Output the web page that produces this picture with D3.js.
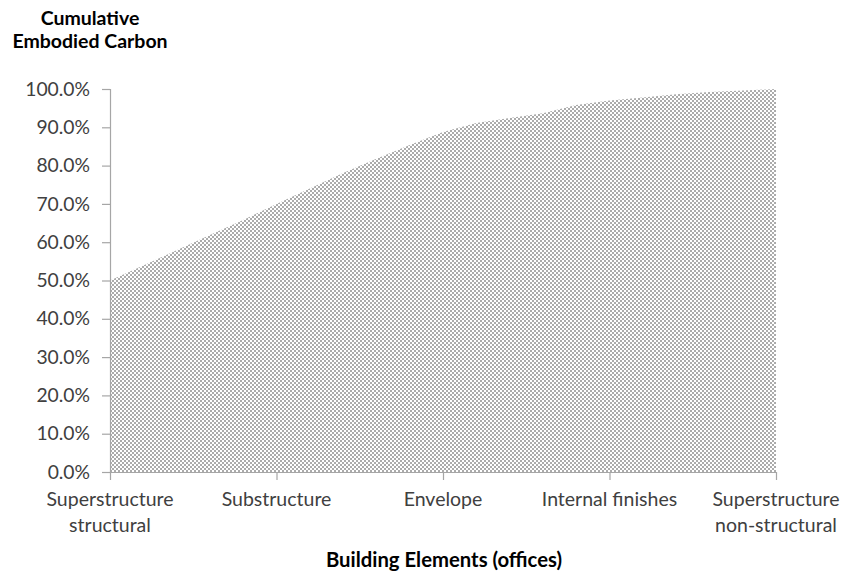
<!DOCTYPE html>
<html>
<head>
<meta charset="utf-8">
<script src="https://cdn.jsdelivr.net/npm/d3@7"></script>
<style>
  html, body { margin: 0; padding: 0; background: #fff; }
  svg { display: block; }
  text { font-family: Lato, "Open Sans", sans-serif; }
</style>
</head>
<body>
<svg id="chart" width="843" height="572"></svg>
<script>
// Category labels shown on the x axis (every 5th step of the cumulative curve)
const categories = [
  ["Superstructure", "structural"],
  ["Substructure"],
  ["Envelope"],
  ["Internal finishes"],
  ["Superstructure", "non-structural"]
];
// Cumulative embodied carbon (fraction), 21 equally spaced steps
const cumulative = [0.500, 0.539, 0.579, 0.619, 0.658, 0.700, 0.740, 0.781, 0.818, 0.854,
                    0.888, 0.911, 0.924, 0.937, 0.958, 0.970, 0.978, 0.986, 0.992, 0.996, 1.000];
const yTicks = [0, 0.1, 0.2, 0.3, 0.4, 0.5, 0.6, 0.7, 0.8, 0.9, 1.0];
const yTitle = ["Cumulative", "Embodied Carbon"];
const xTitle = "Building Elements (offices)";

const svg = d3.select("#chart");
const m = {left: 110, right: 67, top: 89, bottom: 100};
const W = 843, H = 572;

const labelStep = (cumulative.length - 1) / (categories.length - 1);
const x = d3.scaleLinear().domain([0, cumulative.length - 1]).range([m.left, W - m.right]);
const y = d3.scaleLinear().domain([0, 1]).range([H - m.bottom, m.top]);

// dotted pattern fill
const defs = svg.append("defs");
const pat = defs.append("pattern").attr("id", "dots")
  .attr("patternUnits", "userSpaceOnUse").attr("width", 4).attr("height", 4);
pat.append("rect").attr("width", 4).attr("height", 4).attr("fill", "#ffffff");
pat.append("rect").attr("x", 0).attr("y", 0).attr("width", 2).attr("height", 2).attr("fill", "#ababab");
pat.append("rect").attr("x", 2).attr("y", 2).attr("width", 2).attr("height", 2).attr("fill", "#ababab");

const area = d3.area()
  .x((d, i) => x(i))
  .y0(y(0))
  .y1(d => y(d));

svg.append("path").datum(cumulative)
  .attr("d", area)
  .attr("fill", "url(#dots)");

// y axis
const yAxis = d3.axisLeft(y).tickValues(yTicks).tickFormat(d3.format(".1%")).tickSize(8).tickPadding(12);
const gy = svg.append("g").attr("transform", `translate(${m.left},0)`).call(yAxis);
gy.select(".domain").attr("stroke", "#a6a6a6").attr("stroke-width", 1.2);
gy.selectAll(".tick line").attr("stroke", "#a6a6a6").attr("stroke-width", 1.2);
gy.selectAll(".tick text").attr("font-size", 19.3).attr("fill", "#404040")
  .style("font-family", "Lato, sans-serif");

// x axis
const xAxis = d3.axisBottom(x)
  .tickValues(categories.map((c, i) => i * labelStep))
  .tickFormat("").tickSize(8).tickSizeOuter(0);
const gx = svg.append("g").attr("transform", `translate(0,${y(0)})`).call(xAxis);
gx.select(".domain").attr("stroke", "#a6a6a6").attr("stroke-width", 1.2);
gx.selectAll(".tick line").attr("stroke", "#a6a6a6").attr("stroke-width", 1.2);

const xl = svg.append("g").selectAll("text").data(categories).join("text")
  .attr("x", (d, i) => x(i * labelStep))
  .attr("y", y(0) + 34)
  .attr("text-anchor", "middle")
  .attr("font-size", 19.5).attr("fill", "#404040");
xl.selectAll("tspan").data(d => d).join("tspan")
  .attr("x", function() { return d3.select(this.parentNode).attr("x"); })
  .attr("dy", (d, i) => i === 0 ? 0 : 26)
  .text(d => d);

// titles
svg.append("text").attr("x", 90).attr("y", 25).attr("text-anchor", "middle")
  .attr("font-size", 19.5).attr("font-weight", "bold").attr("fill", "#000")
  .selectAll("tspan").data(yTitle).join("tspan")
  .attr("x", 90).attr("dy", (d, i) => i === 0 ? 0 : 23).text(d => d);

svg.append("text").attr("x", 444).attr("y", 567).attr("text-anchor", "middle")
  .attr("font-size", 20.3).attr("font-weight", "bold").attr("fill", "#000")
  .text(xTitle);
</script>
</body>
</html>
